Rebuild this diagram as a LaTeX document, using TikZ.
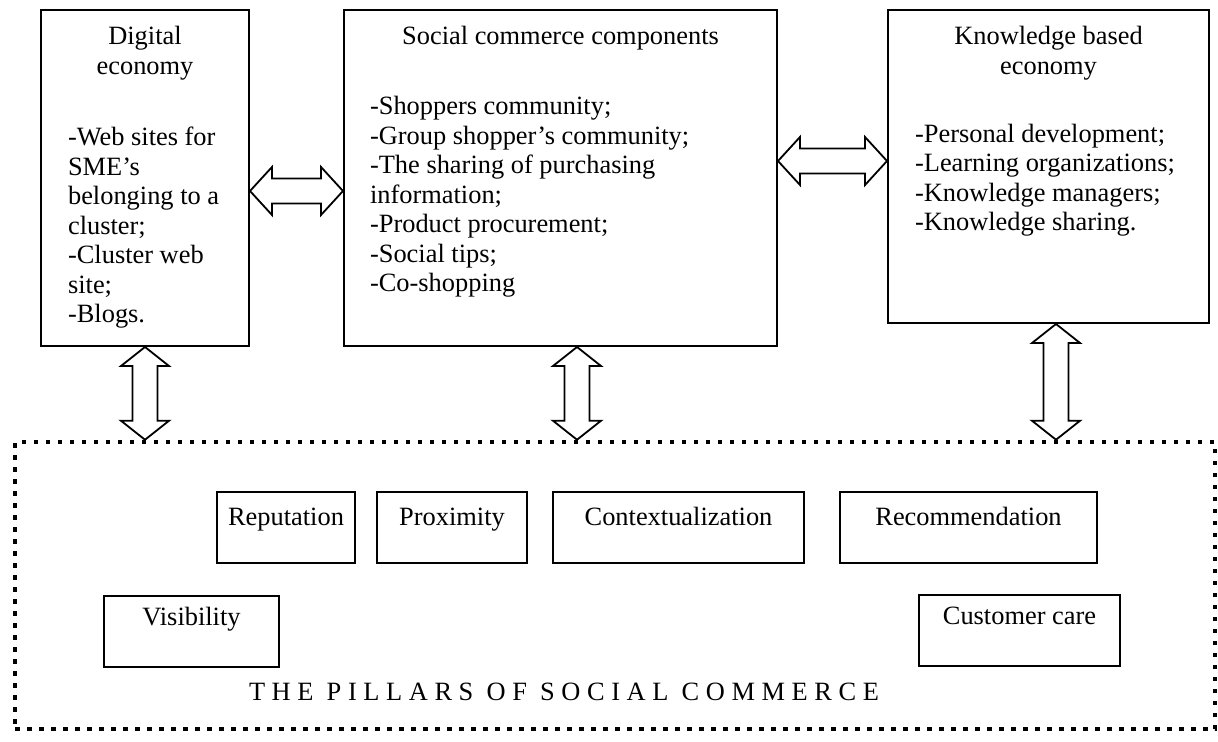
\documentclass[tikz,border=0pt]{standalone}
\usepackage{fontspec}
\setmainfont{Liberation Serif}
\usetikzlibrary{calc}
\usetikzlibrary{fit}

\newcommand{\txt}{\fontsize{13.2}{14.75}\selectfont}

\tikzset{
  box/.style={draw, line width=1pt, inner sep=0pt},
  pillar/.style={draw, line width=1pt, inner sep=0pt},
  bigarrow/.style={draw, line width=0.9pt, line join=miter, fill=white},
  dotframe/.style={draw, line width=2.25pt, dash pattern=on 2.25pt off 3.75pt, inner sep=0pt},
  every node/.append style={font=\txt}
}

% hollow double arrows: top to bottom, left to right
\newcommand{\vertarrow}[2]{%
  \draw[bigarrow] (#1) -- ++(24,19) -- ++(-11.5,0) -- ($(#2)+(12.5,-19)$) -- ++(11.5,0)
    -- (#2) -- ++(-24,-19) -- ++(11.5,0) -- ($(#1)+(-12.5,19)$) -- ++(-11.5,0) -- cycle;}
\newcommand{\horarrow}[2]{%
  \draw[bigarrow] (#1) -- ++(22,-24) -- ++(0,11.5) -- ($(#2)+(-22,-12.5)$) -- ++(0,-11.5)
    -- (#2) -- ++(-22,24) -- ++(0,-11.5) -- ($(#1)+(22,12.5)$) -- ++(0,11.5) -- cycle;}

\begin{document}
\begin{tikzpicture}[x=0.5pt, y=-0.5pt]

        \useasboundingbox (0,0) rectangle (1218,742);

        % the three economies
        \node[box, fit={(41,10) (249,346)}] (dig) {};
        \node[box, fit={(344,10) (777,346)}] (soc) {};
        \node[box, fit={(888,10) (1209,323)}] (know) {};

        \node[anchor=base] (dig-t1) at (145,45) {Digital};
        \node[anchor=base] (dig-t2) at (145,74.5) {economy};
        \node[anchor=base] (soc-t1) at (560.5,45) {Social commerce components};
        \node[anchor=base] (know-t1) at (1048.5,45) {Knowledge based};
        \node[anchor=base] (know-t2) at (1048.5,74.5) {economy};

        \foreach \entry [count=\i from 0] in {-Web sites for, SME’s, belonging to a, cluster;, -Cluster web, site;, -Blogs.}
          \node[anchor=base west] (dig-l\i) at (61,{146+29.5*\i}) {\entry};

        \foreach \entry [count=\i from 0] in {-Shoppers community;, -Group shopper’s community;, -The sharing of purchasing, information;, -Product procurement;, -Social tips;, -Co-shopping}
          \node[anchor=base west] (soc-l\i) at (363,{115+29.5*\i}) {\entry};

        \foreach \entry [count=\i from 0] in {-Personal development;, -Learning organizations;, -Knowledge managers;, -Knowledge sharing.}
          \node[anchor=base west] (know-l\i) at (908,{142.5+29.5*\i}) {\entry};

        % the pillars
        \node[dotframe, fit={(15,442) (1215,729)}] (pillars) {};

        \node[pillar, fit={(217,492) (355,563)}] (rep) {};
        \node[pillar, fit={(377,492) (527,563)}] (prox) {};
        \node[pillar, fit={(553,492) (804,563)}] (cont) {};
        \node[pillar, fit={(840,492) (1097,563)}] (rec) {};
        \node[pillar, fit={(104,596) (279,667)}] (vis) {};
        \node[pillar, fit={(919,595) (1120,666)}] (care) {};

        \node[anchor=base] (rep-t) at ($(rep.north)+(0,34)$) {Reputation};
        \node[anchor=base] (prox-t) at ($(prox.north)+(0,34)$) {Proximity};
        \node[anchor=base] (cont-t) at ($(cont.north)+(0,34)$) {Contextualization};
        \node[anchor=base] (rec-t) at ($(rec.north)+(0,34)$) {Recommendation};
        \node[anchor=base] (vis-t) at ($(vis.north)+(0,30)$) {Visibility};
        \node[anchor=base] (care-t) at ($(care.north)+(0,30)$) {Customer care};

        \node[anchor=base] (title) at (564,700) {T H E\enspace P I L L A R S\enspace O F\enspace S O C I A L\enspace C O M M E R C E};

        % arrow ends
        \coordinate (v1t) at (dig.south);
        \coordinate (v1b) at (v1t |- pillars.north);
        \coordinate (v2t) at ($(soc.south)+(16.5,0)$);
        \coordinate (v2b) at (v2t |- pillars.north);
        \coordinate (v3t) at ($(know.south)+(7.5,0)$);
        \coordinate (v3b) at (v3t |- pillars.north);
        \coordinate (h1l) at ($(dig.north east)+(0,182)$);
        \coordinate (h1r) at (soc.west |- h1l);
        \coordinate (h2l) at ($(soc.north east)+(0,152)$);
        \coordinate (h2r) at (know.west |- h2l);

        \vertarrow{v1t}{v1b}
        \vertarrow{v2t}{v2b}
        \vertarrow{v3t}{v3b}
        \horarrow{h1l}{h1r}
        \horarrow{h2l}{h2r}

\end{tikzpicture}
\end{document}
